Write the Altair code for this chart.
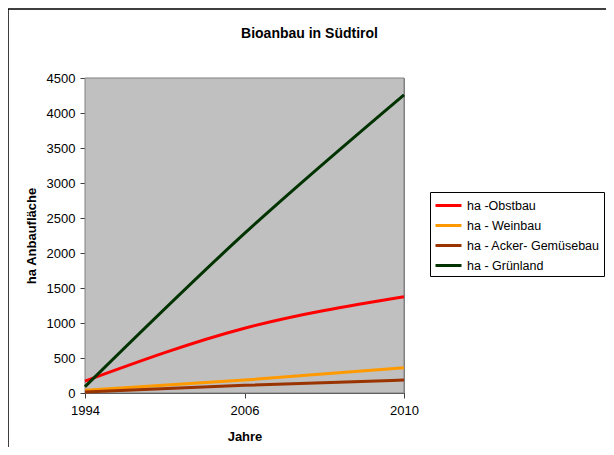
import altair as alt
import pandas as pd

years = ["1994", "2006", "2010"]
series = ["ha -Obstbau", "ha - Weinbau", "ha - Acker- Gemüsebau", "ha - Grünland"]
obstbau = [170, 925, 1375]
weinbau = [40, 185, 360]
acker = [15, 110, 185]
gruenland = [90, 2280, 4260]
colors = ["#FF0000", "#FF9900", "#993300", "#003300"]

rows = []
for i, (name, vals) in enumerate(zip(series, [obstbau, weinbau, acker, gruenland])):
    for y, v in zip(years, vals):
        rows.append({"Jahr": y, "Serie": name, "Wert": v, "ord": i})
df = pd.DataFrame(rows)

FONT = "Liberation Sans"
W, H = 319, 315

one = pd.DataFrame({"a": [0]})

frame = alt.Chart(one).mark_rect(
    fill="white", fillOpacity=0, stroke="black", strokeWidth=1.5, clip=False
).encode(
    x=alt.value(-77), x2=alt.value(620), y=alt.value(-69), y2=alt.value(460)
)

plotbg = alt.Chart(one).mark_rect(fill="#C0C0C0", stroke="#808080", strokeWidth=1).encode(
    x=alt.value(0), x2=alt.value(W), y=alt.value(0), y2=alt.value(H)
)

lines = alt.Chart(df).mark_line(strokeWidth=3, interpolate="monotone").encode(
    x=alt.X("Jahr:O", scale=alt.Scale(type="point", padding=0),
            axis=alt.Axis(title="Jahre", labelAngle=0, tickSize=5, labelPadding=6,
                          titlePadding=13, domainColor="#404040", tickColor="#404040")),
    y=alt.Y("Wert:Q", scale=alt.Scale(domain=[0, 4500], nice=False),
            axis=alt.Axis(title="ha Anbaufläche", values=list(range(0, 4501, 500)),
                          format="d", tickSize=5, labelPadding=5, titlePadding=8, grid=False,
                          domainColor="#404040", tickColor="#404040")),
    color=alt.Color("Serie:N", sort=series,
                    scale=alt.Scale(domain=series, range=colors),
                    legend=alt.Legend(orient="none", legendX=345, legendY=114, title=None,
                                      symbolType="M-1,0H2.25", symbolStrokeWidth=3, symbolSize=256,
                                      strokeColor="black", fillColor="white", padding=4,
                                      labelFontSize=12.5, labelFont=FONT, labelColor="black",
                                      rowPadding=4, labelOffset=14, labelLimit=300)),
    order=alt.Order("ord:Q"),
)

chart = alt.layer(frame, plotbg, lines).properties(
    width=W, height=H,
    background="white",
    title=alt.TitleParams("Bioanbau in Südtirol", fontSize=14, font=FONT, fontWeight="bold",
                          color="black", anchor="middle", frame="group", dx=65, offset=-33),
    autosize=alt.AutoSizeParams(type="none"),
    padding={"left": 77, "top": 70, "right": 202, "bottom": 54},
).configure_view(
    fill="#C0C0C0", stroke="#808080", strokeWidth=1
).configure_axis(
    labelFont=FONT, labelFontSize=13, labelColor="black",
    titleFont=FONT, titleFontSize=13, titleFontWeight="bold", titleColor="black",
)

chart.save("out.html", embed_options={"renderer": "svg", "actions": False})
